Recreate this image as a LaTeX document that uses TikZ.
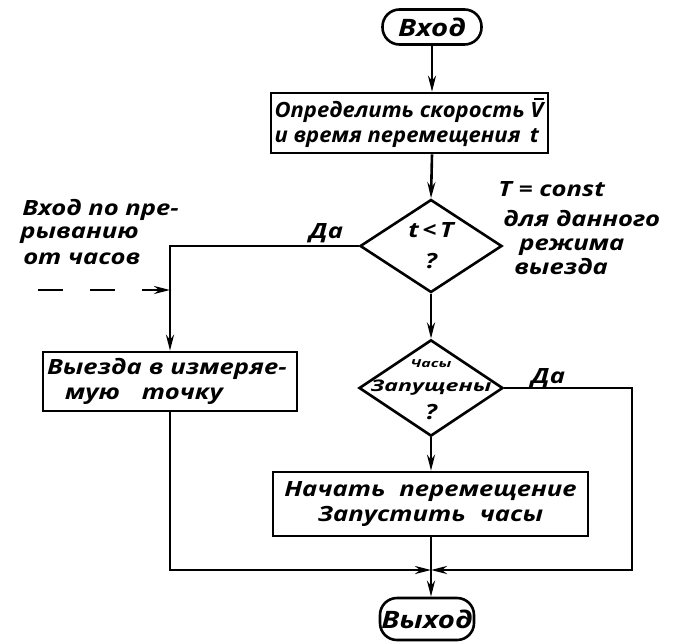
\documentclass[tikz,border=0pt]{standalone}
\usepackage{fontspec}
\setmainfont{Open Sans}[FakeStretch=1.22]
\newfontfamily\narrowf{Open Sans}[FakeStretch=1.05]
\newfontfamily\widef{Open Sans}[FakeStretch=1.45]
\usetikzlibrary{shapes.geometric,arrows.meta}
\begin{document}
\begin{tikzpicture}[x=1pt,y=-1pt, line width=2.6pt,
  every node/.style={font=\bfseries\itshape\fontsize{21}{25}\selectfont, inner sep=0pt},
  box/.style={draw, rectangle, align=left},
  term/.style={draw, rectangle, rounded corners=17pt, font=\bfseries\itshape\fontsize{24}{28}\selectfont},
  dia/.style={draw, diamond, align=center},
  arr/.style={-{Stealth[length=16pt,width=8pt]}},
  lbl/.style={anchor=base west}]
\useasboundingbox (0,0) rectangle (676,642);
% nodes
\node[term, minimum width=99pt, minimum height=35pt] (in) at (432,27) {Вход};
\node[box, minimum width=277pt, minimum height=60pt, font=\narrowf\bfseries\itshape\fontsize{21}{25}\selectfont] (b1) at (409.5,123)
  {Определить скорость V\kern-9pt\rule[17.5pt]{10pt}{1.8pt}\\и время перемещения \,t};
\node[dia, minimum width=142pt, minimum height=93pt] (d1) at (431,246) {t\,<\,T\\[6pt]?};
\node[box, minimum width=254pt, minimum height=59pt, text width=246pt] (b2) at (170,381.5)
  {Выезда в измеряе-\\\hspace*{18pt}мую\hspace{22pt}точку};
\node[dia, minimum width=144pt, minimum height=95pt, inner sep=-10pt,
  font=\widef\bfseries\itshape\fontsize{16}{18}\selectfont] (d2) at (431,388) {Запущены};
\node[font=\widef\bfseries\itshape\fontsize{11}{12}\selectfont] (d2a) at (431,364) {Часы};
\node (d2b) at (431,412) {?};
\node[box, align=center, minimum width=315pt, minimum height=64pt] (b3) at (430.5,504)
  {Начать\hspace{14pt}перемещение\\Запустить\hspace{14pt}часы};
\node[term, minimum width=94pt, minimum height=42pt] (out) at (427,619) {Выход};
% labels
\node[lbl] (yes1) at (308,238) {Да};
\node[lbl] (yes2) at (530,383) {Да};
\node[lbl] (c1) at (497,196) {T = const};
\node[lbl] (c2) at (502,226) {для данного};
\node[lbl] (c3) at (518,250) {режима};
\node[lbl] (c4) at (513,274) {выезда};
\node[lbl] (e1) at (21,215) {Вход по пре-};
\node[lbl] (e2) at (19,238) {рыванию};
\node[lbl] (e3) at (22,264) {от часов};
% coordinates
\coordinate (j) at (431,570);
\coordinate (rc) at (632,570);
\coordinate (intr) at (170,290);
\coordinate (ds) at (38,290);
% connectors
\draw[arr] (in.south) -- (in |- b1.north);
\draw[arr] (in |- b1.south) -- (d1.north);
\draw[arr] (d1.south) -- (d2.north);
\draw[arr] (d2.south) -- (d2 |- b3.north);
\draw[arr] (d1.west) -| (b2.north);
\draw[arr, dash pattern=on 25pt off 27pt] (ds) -- (intr);
\draw[arr] (b2.south) |- (j);
\draw[arr] (d2.east) -| (rc) -- (j);
\draw[arr] (d2 |- b3.south) -- (out.north -| j);
\end{tikzpicture}
\end{document}
